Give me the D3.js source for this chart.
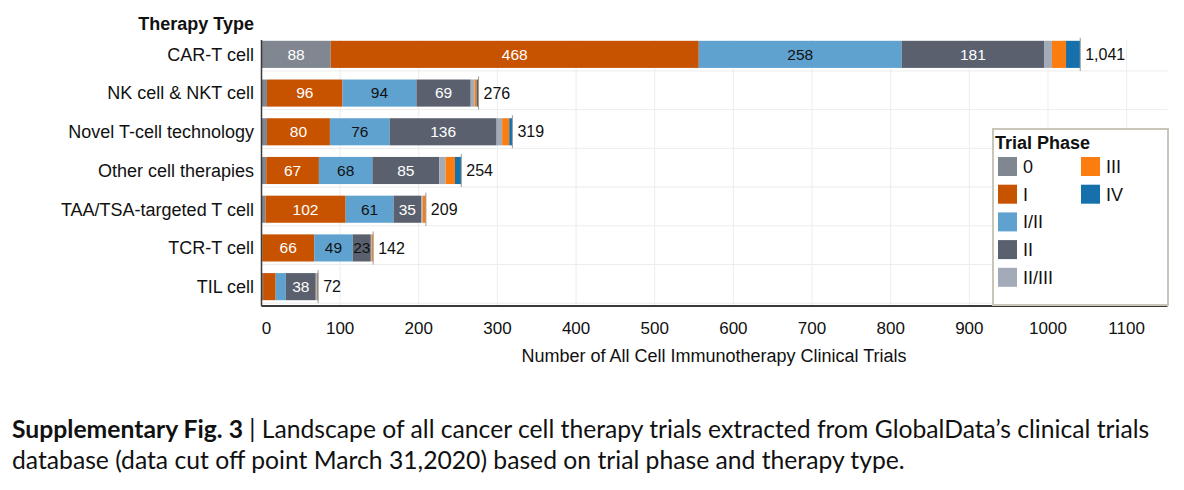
<!DOCTYPE html>
<html>
<head>
<meta charset="utf-8">
<script src="https://cdn.jsdelivr.net/npm/d3@7"></script>
<style>
  body { margin: 0; background: #fff; }
  svg { display: block; }
</style>
</head>
<body>
<svg width="1184" height="490"></svg>
<script>
const categories = ['CAR-T cell', 'NK cell & NKT cell', 'Novel T-cell technology', 'Other cell therapies', 'TAA/TSA-targeted T cell', 'TCR-T cell', 'TIL cell']
const phases = ['0', 'I', 'I/II', 'II', 'II/III', 'III', 'IV']
const phase0 = [88, 7, 7, 6, 5, 1, 2]
const phaseI = [468, 96, 80, 67, 102, 66, 16]
const phaseI_II = [258, 94, 76, 68, 61, 49, 13]
const phaseII = [181, 69, 136, 85, 35, 23, 38]
const phaseII_III = [10, 5, 7, 8, 2, 1, 1]
const phaseIII = [18, 3, 9, 12, 4, 2, 1]
const phaseIV = [18, 2, 4, 8, 0, 0, 1]
const totals = [1041, 276, 319, 254, 209, 142, 72]
const xTicks = [0, 100, 200, 300, 400, 500, 600, 700, 800, 900, 1000, 1100]
const colors = ['#808791', '#c75300', '#5fa2cf', '#5a606e', '#a4abb8', '#fb7d10', '#1570ab']

const series = [phase0, phaseI, phaseI_II, phaseII, phaseII_III, phaseIII, phaseIV]
const rows = categories.map((c, i) => {
  const row = { cat: c, total: totals[i] }
  phases.forEach((p, j) => { row[p] = series[j][i] })
  return row
})

const svg = d3.select('svg')
const font = 'Arial, "Liberation Sans", sans-serif'
const plotLeft = 261.5
const plotRight = 1167.5
const plotTop = 35
const plotBottom = 306

const x = d3.scaleLinear().domain([0, 1152]).range([plotLeft, plotRight])
const y = d3.scaleBand().domain(categories).range([plotTop, plotBottom]).paddingInner(0.3).paddingOuter(0.15)
const color = d3.scaleOrdinal().domain(phases).range(colors)

// grid
const grid = svg.append('g')
grid.selectAll('.vgrid')
  .data(xTicks.slice(1))
  .enter().append('line')
  .attr('x1', (d) => x(d)).attr('x2', (d) => x(d))
  .attr('y1', plotTop + 5).attr('y2', plotBottom)
  .attr('stroke', '#ececec')
grid.selectAll('.hgrid')
  .data(categories)
  .enter().append('line')
  .attr('x1', plotLeft).attr('x2', plotRight)
  .attr('y1', (d) => y(d) + y.bandwidth() + 3)
  .attr('y2', (d) => y(d) + y.bandwidth() + 3)
  .attr('stroke', '#ececec')

// bars
const stacked = d3.stack().keys(phases)(rows)
const layer = svg.append('g').selectAll('g')
  .data(stacked)
  .enter().append('g')
  .attr('fill', (d) => color(d.key))

layer.selectAll('rect')
  .data((d) => d)
  .enter().append('rect')
  .attr('x', (d) => x(d[0]))
  .attr('y', (d) => y(d.data.cat))
  .attr('width', (d) => x(d[1]) - x(d[0]))
  .attr('height', y.bandwidth())

// segment labels
const labels = svg.append('g')
  .attr('font-family', font)
  .attr('font-size', 15.5)
  .attr('text-anchor', 'middle')
stacked.forEach((s) => {
  s.forEach((d) => {
    const v = d[1] - d[0]
    if (v < 20) return
    const w = x(d[1]) - x(d[0])
    const dark = s.key === 'I/II' || w < 22
    labels.append('text')
      .attr('x', (x(d[0]) + x(d[1])) / 2)
      .attr('y', y(d.data.cat) + y.bandwidth() / 2)
      .attr('dy', '0.35em')
      .attr('fill', dark ? '#111' : '#fff')
      .text(v)
  })
})

// end markers and totals
svg.append('g').selectAll('line')
  .data(rows)
  .enter().append('line')
  .attr('x1', (d) => x(d.total)).attr('x2', (d) => x(d.total))
  .attr('y1', (d) => y(d.cat) - 3)
  .attr('y2', (d) => y(d.cat) + y.bandwidth() + 3)
  .attr('stroke', '#9a9a9a')

svg.append('g').selectAll('text')
  .data(rows)
  .enter().append('text')
  .attr('x', (d) => x(d.total) + 5)
  .attr('y', (d) => y(d.cat) + y.bandwidth() / 2)
  .attr('dy', '0.35em')
  .attr('font-family', font)
  .attr('font-size', 16)
  .attr('fill', '#111')
  .text((d) => d3.format(',')(d.total))

// axes
svg.append('line')
  .attr('x1', plotLeft).attr('x2', plotLeft)
  .attr('y1', plotTop + 5).attr('y2', plotBottom)
  .attr('stroke', '#3a3a3a').attr('stroke-width', 1.5)
svg.append('line')
  .attr('x1', plotLeft).attr('x2', plotRight)
  .attr('y1', plotBottom).attr('y2', plotBottom)
  .attr('stroke', '#3a3a3a').attr('stroke-width', 2)

svg.append('g').selectAll('text')
  .data(xTicks)
  .enter().append('text')
  .attr('x', (d) => x(d) + (d === 0 ? 5 : 0))
  .attr('y', 333.5)
  .attr('text-anchor', 'middle')
  .attr('font-family', font)
  .attr('font-size', 17)
  .attr('fill', '#111')
  .text((d) => d)

svg.append('text')
  .attr('x', 714)
  .attr('y', 362)
  .attr('text-anchor', 'middle')
  .attr('font-family', font)
  .attr('font-size', 18)
  .attr('fill', '#111')
  .text('Number of All Cell Immunotherapy Clinical Trials')

svg.append('g').selectAll('text')
  .data(categories)
  .enter().append('text')
  .attr('x', 254)
  .attr('y', (d) => y(d) + y.bandwidth() / 2)
  .attr('dy', '0.35em')
  .attr('text-anchor', 'end')
  .attr('font-family', font)
  .attr('font-size', 18)
  .attr('fill', '#111')
  .text((d) => d)

svg.append('text')
  .attr('x', 254)
  .attr('y', 30)
  .attr('text-anchor', 'end')
  .attr('font-family', font)
  .attr('font-size', 18)
  .attr('font-weight', 'bold')
  .attr('fill', '#111')
  .text('Therapy Type')

// legend
const legend = svg.append('g')
legend.append('rect')
  .attr('x', 993).attr('y', 129)
  .attr('width', 175).attr('height', 176)
  .attr('fill', '#fff')
  .attr('stroke', '#c9c5b9').attr('stroke-width', 2)
legend.append('text')
  .attr('x', 995).attr('y', 149)
  .attr('font-family', font)
  .attr('font-size', 18)
  .attr('font-weight', 'bold')
  .attr('fill', '#111')
  .text('Trial Phase')
const item = legend.selectAll('.item')
  .data(phases)
  .enter().append('g')
  .attr('transform', (d, i) => {
    const col = i < 5 ? 0 : 1
    const r = i < 5 ? i : i - 5
    return 'translate(' + (998 + col * 83) + ',' + (157 + r * 27.7) + ')'
  })
item.append('rect')
  .attr('width', 19).attr('height', 19)
  .attr('fill', (d) => color(d))
item.append('text')
  .attr('x', 25).attr('y', 9.5)
  .attr('dy', '0.35em')
  .attr('font-family', font)
  .attr('font-size', 18)
  .attr('fill', '#111')
  .text((d) => d)

// caption
const cap = svg.append('g')
  .attr('font-family', 'Lato, "Open Sans", sans-serif')
  .attr('font-size', 24.7)
  .attr('fill', '#111')
const line1 = cap.append('text').attr('x', 12).attr('y', 438)
line1.append('tspan').attr('font-weight', 'bold').text('Supplementary Fig. 3')
line1.append('tspan').text(' | Landscape of all cancer cell therapy trials extracted from GlobalData\u2019s clinical trials')
cap.append('text').attr('x', 12).attr('y', 469)
  .text('database (data cut off point March 31,2020) based on trial phase and therapy type.')
</script>
</body>
</html>
